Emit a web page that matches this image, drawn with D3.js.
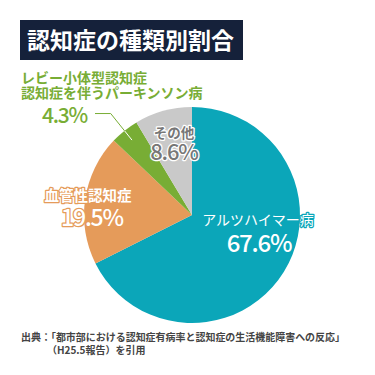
<!DOCTYPE html>
<html>
<head>
<meta charset="utf-8">
<script src="https://cdn.jsdelivr.net/npm/d3@7"></script>
<style>
  html, body { margin: 0; padding: 0; background: #fff; }
  svg { display: block; font-family: "Noto Sans CJK JP", "Noto Sans", sans-serif; }
</style>
</head>
<body>
<svg id="chart"></svg>
<script>
// Data
const categories = ["アルツハイマー病", "血管性認知症", "レビー小体型認知症\n認知症を伴うパーキンソン病", "その他"]
const shares = [67.6, 19.5, 4.3, 8.6]
const colors = ["#0ba6b9", "#e59b5a", "#78ad35", "#c9c9c9"]
const title = "認知症の種類別割合"
const sourceLines = [
  "出典：「都市部における認知症有病率と認知症の生活機能障害への反応」",
  "（H25.5報告）を引用"
]

const width = 375
const height = 375
const cx = 192
const cy = 215
const radius = 108

const svg = d3.select("#chart")
  .attr("width", width)
  .attr("height", height)

renderTitle(svg)
const arcs = renderPie(svg)
renderLabels(svg, arcs)
renderSource(svg)

function renderTitle(svg) {
  svg.append("rect")
    .attr("x", 20)
    .attr("y", 20)
    .attr("width", 223)
    .attr("height", 40)
    .attr("fill", "#15213a")

  svg.append("text")
    .attr("x", 27)
    .attr("y", 48.5)
    .attr("fill", "#fff")
    .attr("font-size", 23)
    .attr("font-weight", "bold")
    .text(title)
}

function renderPie(svg) {
  const pie = d3.pie()
    .sort(null)
    .value(d => d)

  const arc = d3.arc()
    .innerRadius(0)
    .outerRadius(radius)

  const arcs = pie(shares)

  svg.append("g")
    .attr("transform", `translate(${cx}, ${cy})`)
    .selectAll("path")
    .data(arcs)
    .join("path")
    .attr("d", arc)
    .attr("fill", (d, i) => colors[i])

  return arcs
}

function renderLabels(svg, arcs) {
  const g = svg.append("g")
    .attr("transform", `translate(${cx}, ${cy})`)

  // Leader line for the small green slice
  const lewy = arcs[2]
  const inner = d3.arc().innerRadius(96).outerRadius(96).centroid(lewy)
  const elbow = d3.arc().innerRadius(130).outerRadius(130).centroid(lewy)
  const leader = [[95 - cx, elbow[1]], elbow, inner]

  g.append("path")
    .attr("d", d3.line()(leader))
    .attr("fill", "none")
    .attr("stroke", colors[2])
    .attr("stroke-width", 1)

  // inside the slice the line turns white
  g.append("clipPath")
    .attr("id", "pie-clip")
    .append("circle")
    .attr("r", radius)

  g.append("path")
    .attr("d", d3.line()(leader))
    .attr("fill", "none")
    .attr("stroke", "#fff")
    .attr("stroke-width", 1)
    .attr("clip-path", "url(#pie-clip)")

  const fmt = v => `${v.toFixed(1)}%`

  // Alzheimer's
  label(g, categories[0], 66, 10, 14, "#fff", colors[0], "normal", "middle")
  pct(g, fmt(shares[0]), 67, 37, 24, "#fff", colors[0], "middle")

  // Vascular
  label(g, categories[1], -104, -14, 14.5, "#fff", colors[1], "bold", "middle")
  pct(g, fmt(shares[1]), -100, 11, 23, "#fff", colors[1], "middle")

  // Other
  label(g, categories[3], -18, -77, 13.5, "#777", "#fff", "bold", "middle")
  pct(g, fmt(shares[3]), -18, -55, 22, "#777", "#fff", "middle")

  // Lewy bodies / Parkinson's
  const lines = categories[2].split("\n")
  label(g, lines[0], 21 - cx, 83 - cy, 14, colors[2], null, "bold", "start")
  label(g, lines[1], 21 - cx, 98 - cy, 14, colors[2], null, "bold", "start")
  pct(g, fmt(shares[2]), 42 - cx, 123 - cy, 21, colors[2], null, "start")
}

function pct(g, str, x, y, size, fill, halo, anchor) {
  label(g, str, x, y, size, fill, halo, 500, anchor)
    .attr("letter-spacing", -1.2)
}

function label(g, str, x, y, size, fill, halo, weight, anchor) {
  const t = g.append("text")
    .attr("x", x)
    .attr("y", y)
    .attr("text-anchor", anchor)
    .attr("font-size", size)
    .attr("font-weight", weight)
    .attr("fill", fill)
    .text(str)

  if (halo) {
    t.attr("stroke", halo)
      .attr("stroke-width", 2.5)
      .attr("stroke-linejoin", "round")
      .attr("paint-order", "stroke")
  }
  return t
}

function renderSource(svg) {
  svg.append("text")
    .attr("x", 21)
    .attr("y", 341)
    .attr("fill", "#444")
    .attr("font-size", 10)
    .attr("font-weight", "bold")
    .attr("textLength", 324)
    .attr("lengthAdjust", "spacingAndGlyphs")
    .text(sourceLines[0])

  svg.append("text")
    .attr("x", 47)
    .attr("y", 354)
    .attr("fill", "#444")
    .attr("font-size", 10)
    .attr("font-weight", "bold")
    .text(sourceLines[1])
}
</script>
</body>
</html>
